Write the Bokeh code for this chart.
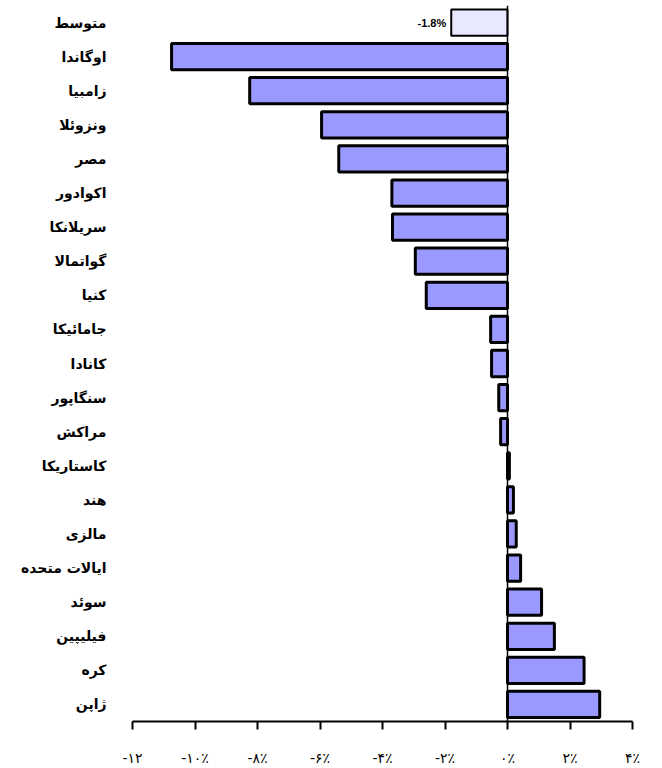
from bokeh.plotting import figure
from bokeh.models import FactorRange, Span, FixedTicker, ColumnDataSource, Range1d
from bokeh.core.properties import value
from bokeh.embed import file_html
from bokeh.resources import INLINE

# Data (top to bottom as in the chart)
countries = ["متوسط", "اوگاندا", "زامبیا", "ونزوئلا", "مصر", "اکوادور", "سریلانکا",
             "گواتمالا", "کنیا", "جامائیکا", "کانادا", "سنگاپور", "مراکش", "کاستاریکا",
             "هند", "مالزی", "ایالات متحده", "سوئد", "فیلیپین", "کره", "ژاپن"]
values = [-1.8, -10.75, -8.25, -5.95, -5.4, -3.7, -3.68, -2.95, -2.6, -0.54, -0.51,
          -0.28, -0.22, 0.06, 0.19, 0.28, 0.42, 1.09, 1.5, 2.45, 2.95]
tick_values = [-12, -10, -8, -6, -4, -2, 0, 2, 4]
tick_labels = ["-۱۲", "-۱۰٪", "-۸٪", "-۶٪", "-۴٪", "-۲٪", "۰٪", "۲٪", "۴٪"]
avg_label = "-1.8%"

avg_country = countries[0]
others = countries[1:]
others_vals = values[1:]

p = figure(width=662, height=768, output_backend="svg", toolbar_location=None,
           y_range=FactorRange(factors=list(reversed(countries)), range_padding=0.0),
           x_range=Range1d(-12, 4),
           min_border_left=132, min_border_right=30, min_border_top=5, min_border_bottom=10)

p.outline_line_color = None
p.grid.grid_line_color = None
p.background_fill_color = "white"

src = ColumnDataSource(dict(y=others, right=others_vals, left=[0] * len(others)))
p.hbar(y="y", left="left", right="right", height=0.77, source=src,
       fill_color="#9999ff", line_color="black", line_width=3)

avg_src = ColumnDataSource(dict(y=[avg_country], right=[values[0]], left=[0], label=[avg_label]))
p.hbar(y="y", left="left", right="right", height=0.77, source=avg_src,
       fill_color="#e8e8ff", line_color="black", line_width=2)
p.text(x="right", y="y", text="label", source=avg_src, text_align="right",
       text_baseline="middle", x_offset=-5, text_font=value("Liberation Sans"),
       text_font_style="bold", text_font_size="11px", text_color="black")

p.add_layout(Span(location=0, dimension="height", line_color="black", line_width=1.5))

xa = p.xaxis[0]
xa.ticker = FixedTicker(ticks=tick_values)
xa.major_label_overrides = {v: l for v, l in zip(tick_values, tick_labels)}
xa.axis_line_width = 2
xa.axis_line_color = "black"
xa.major_tick_in = 0
xa.major_tick_out = 8
xa.major_tick_line_width = 2
xa.minor_tick_line_color = None
xa.major_label_standoff = 20
xa.major_label_text_font = "DejaVu Sans"
xa.major_label_text_font_size = "14px"
xa.major_label_text_color = "black"

ya = p.yaxis[0]
ya.axis_line_color = None
ya.major_tick_line_color = None
ya.minor_tick_line_color = None
ya.major_label_standoff = 20
ya.major_label_text_font = "DejaVu Sans"
ya.major_label_text_font_style = "bold"
ya.major_label_text_font_size = "14px"
ya.major_label_text_color = "black"

open("out.html", "w").write(file_html(p, INLINE))
